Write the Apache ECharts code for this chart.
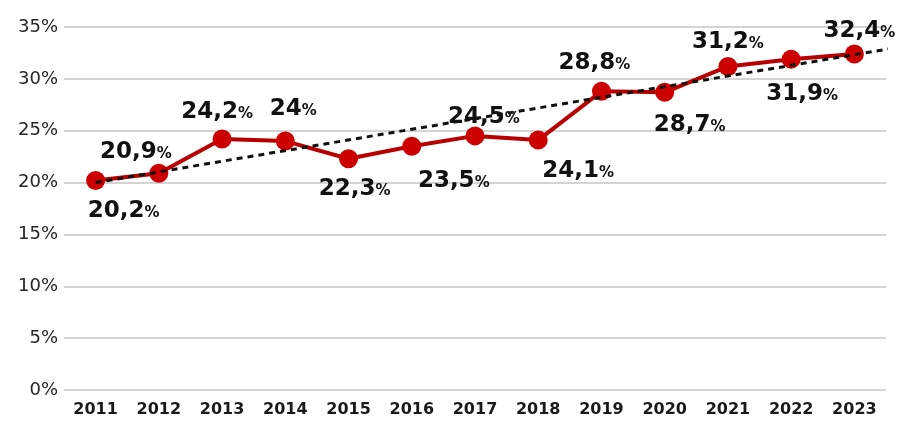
<!DOCTYPE html>
<html><head><meta charset="utf-8">
<script src="https://cdn.jsdelivr.net/npm/echarts@6/dist/echarts.min.js"></script>
<style>html,body{margin:0;padding:0;background:#fff}#c{width:900px;height:421px}</style>
</head><body><div id="c"></div>
<script>
const years = ['2011','2012','2013','2014','2015','2016','2017','2018','2019','2020','2021','2022','2023'];
const shareValues = [20.2, 20.9, 24.2, 24, 22.3, 23.5, 24.5, 24.1, 28.8, 28.7, 31.2, 31.9, 32.4];
// dashed trend line: [x position in category units, value]
const trendPoints = [[0, 20.0], [12.75, 33.1]];
const yTicks = [0, 5, 10, 15, 20, 25, 30, 35];

// label placement (layout only)
const labelOffsets = [[28,31],[-23,-21],[-5,-27],[8,-32],[6,30],[42,35],[9,-19],[40,31],[-7,-28],[25,33],[0,-24],[11,35],[5,-23]];

const chart = echarts.init(document.getElementById('c'), null, {renderer:'canvas'});
const fmt = v => String(v).replace('.', ',');
chart.setOption({
  animation:false,
  grid:{left:64, right:14, top:27, bottom:31, containLabel:false},
  xAxis:[{
    type:'category', data:years, boundaryGap:true,
    axisLine:{show:false}, axisTick:{show:false},
    axisLabel:{color:'#1a1a1a', fontFamily:'DejaVu Sans', fontWeight:'bold', fontSize:16, margin:12}
  },{
    type:'value', min:-0.5, max:12.5, show:false
  }],
  yAxis:{
    type:'value', min:0, max:35, interval:5,
    axisLabel:{formatter: v => yTicks.includes(v) ? v + '%' : '', color:'#262626', fontFamily:'DejaVu Sans', fontSize:18, margin:6},
    splitLine:{lineStyle:{color:'#d4d4d4', width:2}},
    axisLine:{show:false}, axisTick:{show:false}
  },
  series:[{
    type:'line', xAxisIndex:0, data:shareValues,
    lineStyle:{color:'#b80000', width:4},
    symbol:'circle', symbolSize:19,
    itemStyle:{color:'#cc0000'},
    z:3,
    label:{show:false}
  },{
    type:'line', xAxisIndex:1, data:trendPoints,
    symbol:'none', lineStyle:{color:'#111', width:3, type:[6,5]}, z:4, clip:false
  },{
    type:'scatter', xAxisIndex:0, symbolSize:0, z:5,
    itemStyle:{opacity:1, color:'#111'},
    data: shareValues.map((v,i)=>({
      value:v,
      label:{show:true, position:'inside', offset:labelOffsets[i], color:'#111',
        formatter:'{a|'+fmt(v)+'}{b|%}',
        rich:{
          a:{fontFamily:'DejaVu Sans', fontWeight:'bold', fontSize:23, color:'#111'},
          b:{fontFamily:'DejaVu Sans', fontWeight:'bold', fontSize:15, color:'#111', padding:[4,0,0,0]}
        }}
    }))
  }]
});
</script></body></html>
